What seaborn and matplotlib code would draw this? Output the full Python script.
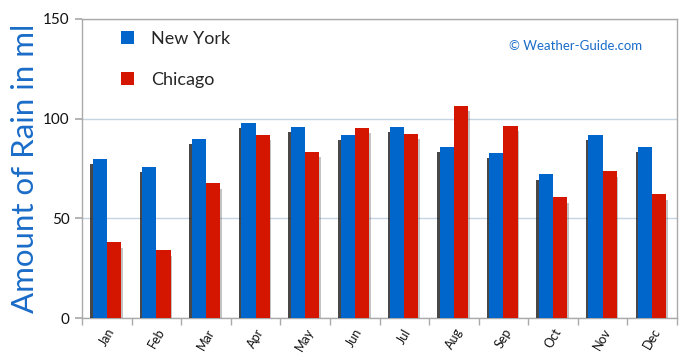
import matplotlib
matplotlib.use("Agg")
import matplotlib.pyplot as plt
import matplotlib.patheffects as pe
from matplotlib.patches import Patch
import seaborn as sns
import pandas as pd

months = ["Jan", "Feb", "Mar", "Apr", "May", "Jun", "Jul", "Aug", "Sep", "Oct", "Nov", "Dec"]
new_york = [80, 76, 90, 98, 96, 92, 96, 86, 83, 72, 92, 86]
chicago = [38, 34, 67.5, 92, 83.5, 95.5, 92.5, 106.5, 96.5, 60.5, 73.5, 62]
cities = ["New York", "Chicago"]
colors = ["#0066cc", "#d41500"]

df = pd.DataFrame({
    "Month": months * 2,
    "Rain": new_york + chicago,
    "City": [cities[0]] * len(months) + [cities[1]] * len(months),
})

sns.set_theme(style="white")
plt.rcParams["font.family"] = ["Lato", "DejaVu Sans"]

fig = plt.figure(figsize=(6.9, 3.59), dpi=100)
ax = fig.add_axes([82 / 690, 1 - 318 / 359, 595 / 690, 299 / 359])

sns.barplot(data=df, x="Month", y="Rain", hue="City", palette=colors,
            width=0.57, gap=0, dodge=True, legend=False, ax=ax,
            saturation=1, linewidth=0, errorbar=None)

for i, cont in enumerate(ax.containers):
    if i == 0:
        effects = [pe.SimplePatchShadow(offset=(-1.8, -4), shadow_rgbFace="#1a1a1a", alpha=0.8), pe.Normal()]
    else:
        effects = [pe.SimplePatchShadow(offset=(1.2, -4), shadow_rgbFace="#555555", alpha=0.35), pe.Normal()]
    for bar in cont:
        bar.set_path_effects(effects)
        bar.set_zorder(3 + i)

ax.set_ylim(0, 150)
ax.set_xlim(-0.5, 11.5)
ax.set_yticks([0, 50, 100, 150])
ax.yaxis.grid(True, color="#c5d3e3", linewidth=1)
ax.set_axisbelow(True)
for s in ax.spines.values():
    s.set_color("#aaaaaa")
    s.set_linewidth(1)
    s.set_visible(True)

ax.set_xticks(range(len(months)))
ax.set_xticklabels(months, rotation=60, fontsize=9, color="#111111")
ax.tick_params(axis="x", length=0, pad=6)
ax.set_xticks([k - 0.5 for k in range(len(months) + 1)], minor=True)
ax.tick_params(axis="x", which="minor", length=5, color="#aaaaaa", direction="out", bottom=True)
ax.tick_params(axis="y", length=5, color="#aaaaaa", direction="out", left=True, labelsize=11, labelcolor="#111111", pad=4)

ax.set_xlabel("")
ax.set_ylabel("Amount of Rain in ml", fontsize=22.5, color="#1a6cc8", labelpad=3)

handles = [Patch(facecolor=c, edgecolor="none") for c in colors]
ax.legend(handles, cities, loc="upper left", bbox_to_anchor=(0.038, 1.015), frameon=False,
          fontsize=13, handlelength=0.75, handleheight=0.75, labelspacing=1.4, handletextpad=0.9)

ax.text(0.83, 0.91, "© Weather-Guide.com", transform=ax.transAxes, ha="center", va="center",
        fontsize=9.5, color="#1a6cc8")

fig.savefig("out.png", dpi=100)
